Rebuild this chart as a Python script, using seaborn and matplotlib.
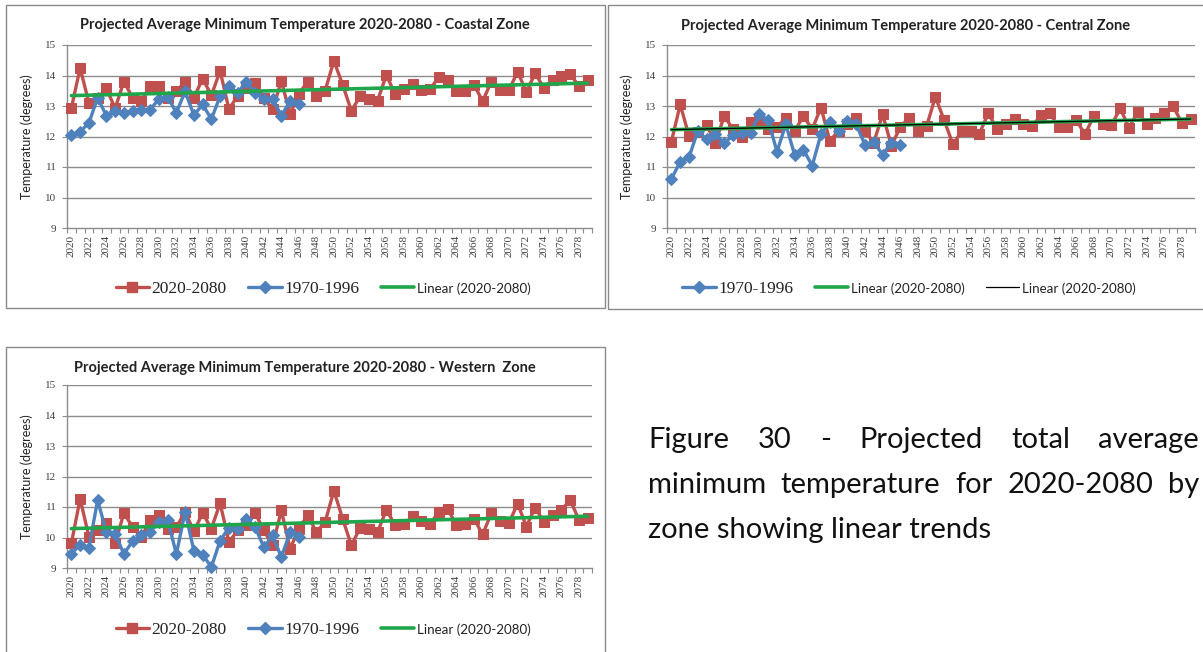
import numpy as np
import matplotlib
matplotlib.use("Agg")
import matplotlib.pyplot as plt
import seaborn as sns
from matplotlib.patches import Rectangle
from matplotlib.lines import Line2D

sns.set_theme(style="white")
plt.rcParams['font.family'] = ['Lato', 'DejaVu Sans']

# ---------------- data ----------------
years = list(range(2020, 2080))
hist_years = list(range(2020, 2047))

coastal_proj = [12.93, 14.25, 13.10, 13.25, 13.58, 12.92, 13.80, 13.27, 13.16, 13.65,
                13.65, 13.27, 13.48, 13.80, 13.27, 13.90, 13.35, 14.15, 12.90, 13.32,
                13.60, 13.74, 13.25, 12.89, 13.82, 12.73, 13.40, 13.80, 13.32, 13.50,
                14.48, 13.70, 12.84, 13.32, 13.24, 13.18, 14.02, 13.38, 13.56, 13.73,
                13.51, 13.56, 13.95, 13.86, 13.48, 13.48, 13.70, 13.16, 13.80, 13.54,
                13.51, 14.13, 13.45, 14.08, 13.59, 13.86, 13.99, 14.05, 13.65, 13.86]
coastal_hist = [12.05, 12.16, 12.44, 13.27, 12.68, 12.82, 12.78, 12.84, 12.87, 12.87,
                13.24, 13.30, 12.78, 13.48, 12.70, 13.05, 12.57, 13.32, 13.67, 13.43,
                13.80, 13.43, 13.22, 13.24, 12.68, 13.16, 13.05]

central_proj = [11.83, 13.05, 12.02, 12.15, 12.37, 11.80, 12.67, 12.24, 11.97, 12.46,
                12.50, 12.24, 12.30, 12.62, 12.18, 12.67, 12.24, 12.95, 11.86, 12.18,
                12.40, 12.62, 12.18, 11.80, 12.73, 11.70, 12.30, 12.62, 12.18, 12.34,
                13.30, 12.53, 11.74, 12.18, 12.18, 12.09, 12.76, 12.26, 12.40, 12.59,
                12.40, 12.34, 12.69, 12.76, 12.32, 12.32, 12.54, 12.07, 12.67, 12.40,
                12.37, 12.92, 12.29, 12.81, 12.42, 12.62, 12.76, 13.00, 12.45, 12.59]
central_hist = [10.61, 11.17, 11.32, 12.18, 11.91, 12.08, 11.78, 12.04, 12.13, 12.12,
                12.73, 12.53, 11.50, 12.40, 11.40, 11.57, 11.04, 12.08, 12.46, 12.18,
                12.51, 12.40, 11.72, 11.83, 11.40, 11.80, 11.72]

western_proj = [9.81, 11.27, 10.03, 10.23, 10.47, 9.81, 10.80, 10.34, 10.01, 10.56,
                10.73, 10.29, 10.34, 10.84, 10.20, 10.80, 10.29, 11.13, 9.85, 10.23,
                10.40, 10.80, 10.23, 9.74, 10.89, 9.63, 10.29, 10.73, 10.18, 10.51,
                11.53, 10.62, 9.74, 10.32, 10.29, 10.18, 10.91, 10.40, 10.43, 10.69,
                10.54, 10.45, 10.84, 10.95, 10.40, 10.43, 10.62, 10.10, 10.80, 10.54,
                10.47, 11.11, 10.36, 10.98, 10.51, 10.73, 10.89, 11.24, 10.58, 10.65]
western_hist = [9.46, 9.77, 9.66, 11.22, 10.18, 10.12, 9.46, 9.88, 10.07, 10.18,
                10.51, 10.58, 9.46, 10.84, 9.57, 9.44, 9.03, 9.90, 10.32, 10.29,
                10.62, 10.34, 9.68, 10.07, 9.35, 10.18, 10.01]

titles = ["Projected Average Minimum Temperature 2020-2080 - Coastal Zone",
          "Projected Average Minimum Temperature 2020-2080 - Central Zone",
          "Projected Average Minimum Temperature 2020-2080 - Western  Zone"]
label_proj = "2020-2080"
label_hist = "1970-1996"
label_lin = "Linear (2020-2080)"
y_ticks = [9, 10, 11, 12, 13, 14, 15]
ylab = "Temperature (degrees)"

caption_lines = [["Figure", "30", "-", "Projected", "total", "average"],
                 ["minimum", "temperature", "for", "2020-2080", "by"],
                 ["zone showing linear trends"]]

# ---------------- style ----------------
RED = "#C0504D"
BLUE = "#4F81BD"
GREEN = "#1FA64A"
GRID = "#8c8c8c"
W, H = 1203, 652

fig = plt.figure(figsize=(W / 100, H / 100), dpi=100)
fig.patch.set_facecolor("white")


def fbox(x0, y0, x1, y1):
    return [x0 / W, 1 - y1 / H, (x1 - x0) / W, (y1 - y0) / H]


# chart frames
for (x0, y0, x1, y1) in [(6, 5, 605, 308), (608, 5, 1210, 309), (6, 347, 605, 660)]:
    fig.patches.append(Rectangle((x0 / W, 1 - y1 / H), (x1 - x0) / W, (y1 - y0) / H,
                                 transform=fig.transFigure, fill=False,
                                 edgecolor="#8a8a8a", lw=1.0))

panels = [
    dict(rect=fbox(67, 45, 592, 228), proj=coastal_proj, hist=coastal_hist,
         title=titles[0], tpos=(305, 25), legpos=(323, 289), black=False),
    dict(rect=fbox(667, 45, 1195, 228), proj=central_proj, hist=central_hist,
         title=titles[1], tpos=(906, 26), legpos=(909, 289), black=True),
    dict(rect=fbox(67, 385, 592, 568), proj=western_proj, hist=western_hist,
         title=titles[2], tpos=(305, 368), legpos=(323, 630), black=False),
]

for p in panels:
    ax = fig.add_axes(p["rect"])
    ax.set_facecolor("white")
    yrs = np.array(years, dtype=float)
    hy = np.array(hist_years, dtype=float)

    sns.lineplot(x=yrs, y=p["proj"], ax=ax, color=RED, lw=2.4, marker="s",
                 markersize=7.8, markeredgecolor=RED, label=label_proj, zorder=3,
                 clip_on=False)
    sns.lineplot(x=hy, y=p["hist"], ax=ax, color=BLUE, lw=2.4, marker="D",
                 markersize=5.8, markeredgecolor=BLUE, label=label_hist, zorder=4,
                 clip_on=False)
    sns.regplot(x=yrs, y=np.array(p["proj"]), ax=ax, scatter=False, ci=None,
                truncate=True, color=GREEN, line_kws=dict(lw=2.6, zorder=5),
                label=label_lin)
    if p["black"]:
        sns.regplot(x=yrs, y=np.array(p["proj"]), ax=ax, scatter=False, ci=None,
                    truncate=True, color="black", line_kws=dict(lw=0.9, zorder=6),
                    label=label_lin)

    ax.set_xlim(2019.5, 2079.5)
    ax.set_ylim(9, 15)
    ax.set_yticks(y_ticks)
    ax.set_yticklabels([str(v) for v in y_ticks], fontsize=8, color="#404040",
                       family="Liberation Serif")
    ax.set_xticks(years[::2])
    ax.set_xticklabels([str(y) for y in years[::2]], rotation=90, fontsize=8,
                       color="#404040", family="Liberation Serif")
    ax.set_xticks(np.arange(2019.5, 2080.0, 1.0), minor=True)
    ax.tick_params(axis="x", which="major", length=0, pad=5)
    ax.tick_params(axis="x", which="minor", length=3.5, width=0.8, color=GRID,
                   direction="out", bottom=True)
    ax.tick_params(axis="y", which="major", length=3.5, width=0.8, color=GRID,
                   direction="out", left=True, pad=4)
    ax.grid(False)
    for v in y_ticks[1:]:
        ax.axhline(v, color=GRID, lw=1.0, zorder=1)
    for s in ["top", "right"]:
        ax.spines[s].set_visible(False)
    for s in ["left", "bottom"]:
        ax.spines[s].set_color(GRID)
        ax.spines[s].set_linewidth(1.0)
    ax.set_xlabel("")
    ax.set_ylabel(ylab, fontsize=9, color="#222222", labelpad=9)

    if ax.get_legend():
        ax.get_legend().remove()
    h_red = Line2D([], [], color=RED, lw=2.4, marker="s", markersize=7.8)
    h_blue = Line2D([], [], color=BLUE, lw=2.4, marker="D", markersize=5.8)
    h_green = Line2D([], [], color=GREEN, lw=2.6)
    if p["black"]:
        handles = [h_blue, h_green, Line2D([], [], color="black", lw=0.9)]
        labels = [label_hist, label_lin, label_lin]
    else:
        handles = [h_red, h_blue, h_green]
        labels = [label_proj, label_hist, label_lin]
    leg = fig.legend(handles, labels, loc="center",
                     bbox_to_anchor=(p["legpos"][0] / W, 1 - p["legpos"][1] / H),
                     ncol=3, frameon=False, fontsize=12, handlelength=2.0,
                     handletextpad=0.15, columnspacing=1.3)
    for t in leg.get_texts():
        if t.get_text().startswith("Linear"):
            t.set_fontfamily("Lato")
            t.set_fontsize(9.6)
        else:
            t.set_fontfamily("Liberation Serif")
            t.set_fontsize(12.5)
        t.set_color("#222222")

    fig.text(p["tpos"][0] / W, 1 - p["tpos"][1] / H, p["title"], ha="center",
             va="center", fontsize=10.5, fontweight="bold", color="#222222")

# caption: justified paragraph (first two lines stretched between margins)
left_px, right_px = 648, 1199
baselines = [448, 493, 538]
renderer = fig.canvas.get_renderer()
for li, (words, yb) in enumerate(zip(caption_lines, baselines)):
    objs = [fig.text(0, 1 - yb / H, w, ha="left", va="baseline", fontsize=21,
                     color="#111111") for w in words]
    widths = [o.get_window_extent(renderer).width for o in objs]
    if len(objs) > 1:
        gap = (right_px - left_px - sum(widths)) / (len(objs) - 1)
    else:
        gap = 0
    x = left_px
    for o, wd in zip(objs, widths):
        o.set_x(x / W)
        x += wd + gap

fig.savefig("out.png", dpi=100)
